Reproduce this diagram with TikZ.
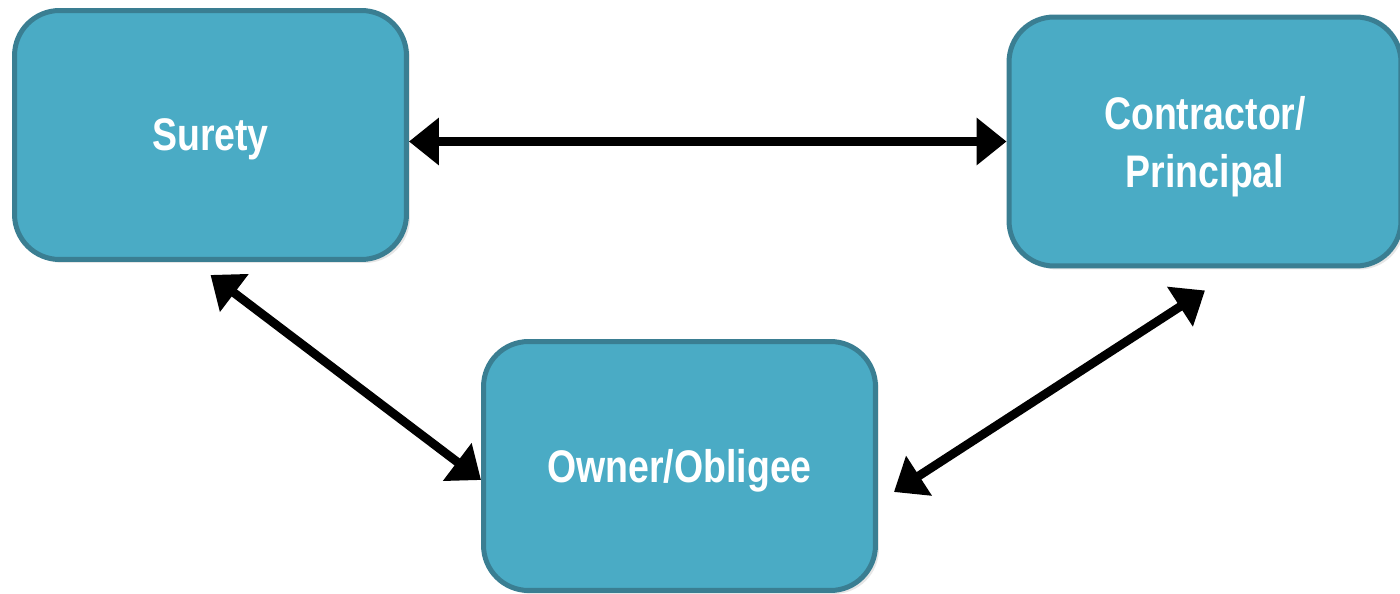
\documentclass[tikz,border=0pt]{standalone}
\usepackage{fontspec}
\setmainfont{Liberation Sans}[FakeStretch=0.84, BoldFeatures={FakeStretch=0.82}]
\usetikzlibrary{arrows.meta, shadows}
\definecolor{boxfill}{HTML}{4AABC5}
\definecolor{boxline}{HTML}{3A7E92}

\begin{document}
\begin{tikzpicture}[x=0.02cm, y=-0.02cm,
	party/.style = {rectangle, rounded corners=0.9cm, draw=boxline, line width=0.1cm, fill=boxfill,
		minimum width=7.84cm, minimum height=4.98cm, text=white, align=center, text depth=0pt,
		font=\fontsize{26}{33}\selectfont\bfseries,
		drop shadow={shadow xshift=2pt, shadow yshift=-2pt, opacity=0.2}},
	link/.style = {{Triangle[length=17pt, width=26pt]}-{Triangle[length=17pt, width=26pt]}, line width=5pt, black}]
			\useasboundingbox (0,0) rectangle (1400,594);
			\node[party] (sur) at (210.5,135) {Surety};
			\node[party] (con) at (1205,141.5) {Contractor/\\Principal};
			\node[party] (own) at (679.5,466) {Owner/Obligee};
			\draw[link] (sur.east |- con) -- (con.west);
			\draw[link] ([yshift=-0.26cm]sur.south) -- ([yshift=-0.28cm]own.west);
			\draw[link] ([yshift=-0.44cm]con.south) -- ([xshift=0.32cm, yshift=-0.52cm]own.east);
		\end{tikzpicture}
\end{document}
